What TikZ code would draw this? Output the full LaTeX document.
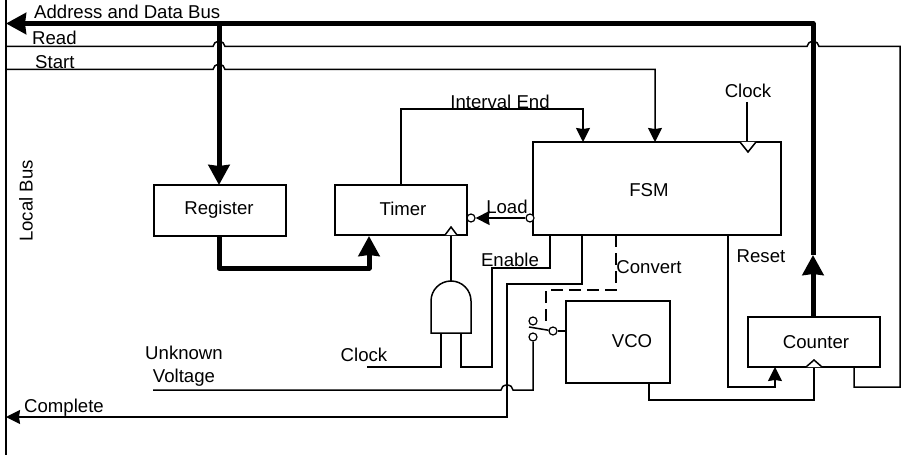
\documentclass[tikz,border=0pt]{standalone}
\usepackage{fontspec}
\setmainfont{Liberation Sans}
\usetikzlibrary{positioning,arrows.meta}
\tikzset{
  block/.style ={rectangle,draw=black,line width=1.5pt,fill=white,inner sep=0pt,align=center},
  label/.style ={inner sep=0pt,align=center},
  port/.style  ={circle,draw=black,line width=1.2pt,fill=white,inner sep=0pt,minimum size=8pt},
  wire/.style  ={line width=1.5pt,draw=black},
  flow/.style  ={wire,-{Stealth[length=14pt,width=14pt,inset=1pt]}},
  bus/.style   ={line width=5pt,draw=black,line join=round},
  busflow/.style={bus,-{Stealth[length=20pt,width=21pt,inset=1pt]}},
  ctrl/.style  ={wire,dash pattern=on 12pt off 6pt},
}
% wire hop over a crossing line, running left to right
\newcommand{\hopat}[2]{-- ({#1-6},#2) arc[start angle=180,end angle=360,x radius=6,y radius=5] }
\begin{document}
\begin{tikzpicture}[x=1pt,y=-1pt,every node/.style={font=\fontsize{18.6}{23}\selectfont}]
  \useasboundingbox (0,0) rectangle (903,468);
  % boxes
  \node[block,minimum width=132pt,minimum height=51pt] (register) at (220,210.5) {};
  \node[block,minimum width=132pt,minimum height=50pt] (timer) at (401,210) {};
  \node[block,minimum width=248pt,minimum height=93pt] (fsm) at (657,188.5) {};
  \node[block,minimum width=104pt,minimum height=82pt] (vco) at (618,342) {};
  \node[block,minimum width=132pt,minimum height=50pt] (counter) at (814,342) {};
  % end points
  \coordinate (localtop) at (6,0);
  \coordinate (localend) at (6,455);
  \coordinate (busleft) at (6,23.5);
  \coordinate (buscorner) at (813,23.5);
  \coordinate (bustap) at (219,23.5);
  \coordinate (busmid) at (813,255);
  \coordinate (regin) at (219,185);
  \coordinate (regout) at (219,236);
  \coordinate (timerin) at (369,236);
  \coordinate (cntout) at (813,317);
  \coordinate (readleft) at (6,46.5);
  \coordinate (startleft) at (6,69.5);
  \coordinate (fsmstart) at (655,142);
  \coordinate (fsmint) at (583,142);
  \coordinate (timerint) at (401,185);
  \coordinate (clockin) at (747,102);
  \coordinate (fsmclk) at (747,142);
  \coordinate (timerclk) at (451,235);
  \coordinate (andtop) at (451,281);
  \coordinate (anda) at (441,333);
  \coordinate (andb) at (461,333);
  \coordinate (clockl) at (367,367);
  \coordinate (fsmen) at (550,235);
  \coordinate (fsmconv) at (582,235);
  \coordinate (fsmdash) at (616,235);
  \coordinate (fsmrst) at (728,235);
  \coordinate (cntrst) at (775,367);
  \coordinate (cntclk) at (814,367);
  \coordinate (cntfb) at (854,367);
  \coordinate (vcoout) at (649,383);
  \coordinate (vcoin) at (566,331);
  \coordinate (swarm) at (529,327);
  \coordinate (dashend) at (546,321);
  \coordinate (unkleft) at (153,390);
  \coordinate (compleft) at (6,417);
  % switch and load ports
  \node[port] (swtop) at (533,321) {};
  \node[port] (swbot) at (533,337) {};
  \node[port] (swpole) at (553,331) {};
  \node[port] (timerload) at (471,218) {};
  \node[port] (fsmload) at (530,218) {};
  % local bus, address bus
  \draw[wire] (localtop) -- (localend);
  \draw[busflow] (cntout) -- (busmid);
  \draw[busflow] (busmid) -- (buscorner) -- (busleft);
  \draw[busflow] (bustap) -- (regin);
  \draw[busflow] (regout) |- (369,268) -- (timerin);
  % read and start
  \draw[wire] (readleft) \hopat{219}{46.5} \hopat{813}{46.5} -- (900,46.5) -- (900,387) -- (854,387) -- (cntfb);
  \draw[flow] (startleft) \hopat{219}{69.5} -- (655,69.5) -- (fsmstart);
  % control wires
  \draw[flow] (timerint) |- (583,109) -- (fsmint);
  \draw[wire] (clockin) -- (fsmclk);
  \draw[flow] (fsmload) -- (timerload);
  \draw[wire] (andtop) -- (timerclk);
  \draw[wire] (clockl) -| (anda);
  \draw[wire] (andb) |- (492,367) |- (550,268) -- (fsmen);
  \draw[flow] (fsmconv) |- (507,284) |- (compleft);
  \draw[ctrl] (fsmdash) |- (546,290) -- (dashend);
  \draw[wire] (unkleft) \hopat{507}{390} -- (533,390) -- (swbot);
  \draw[wire] (swarm) -- (swpole);
  \draw[wire] (swpole) -- (vcoin);
  \draw[flow] (fsmrst) |- (775,387) -- (cntrst);
  \draw[wire] (vcoout) |- (814,400) -- (cntclk);
  % AND gate
  \draw[block] (431,333) -- (431,301) arc[start angle=180,end angle=360,radius=20] -- (471,333) -- cycle;
  % clock triangles
  \draw[wire,fill=white] (740,142) -- (748,152) -- (756,142);
  \draw[wire,fill=white] (445,235) -- (451,227) -- (457,235);
  \draw[wire,fill=white] (806,367) -- (814,360) -- (822,367);
  % labels
  \node[label] (lregister) at (219,210) {Register};
  \node[label] (ltimer) at (403,209) {Timer};
  \node[label] (lfsm) at (649,190) {FSM};
  \node[label] (lvco) at (632,341) {VCO};
  \node[label] (lcounter) at (816,342) {Counter};
  \node[label,anchor=west] (laddr) at (34,12) {Address and Data Bus};
  \node[label,anchor=west] (lread) at (32,38) {Read};
  \node[label,anchor=west] (lstart) at (35,62) {Start};
  \node[label,rotate=90] (llocal) at (26,201) {Local Bus};
  \node[label] (linterval) at (500,102) {Interval End};
  \node[label] (lclocka) at (748,91) {Clock};
  \node[label] (lload) at (507,207) {Load};
  \node[label] (lenable) at (510,260) {Enable};
  \node[label] (lconvert) at (649,267) {Convert};
  \node[label] (lreset) at (761,256) {Reset};
  \node[label] (lclockb) at (364,355) {Clock};
  \node[label] (lunknown) at (184,366.5) {Unknown\\Voltage};
  \node[label,anchor=west] (lcomplete) at (24,408) {Complete};
\end{tikzpicture}
\end{document}
